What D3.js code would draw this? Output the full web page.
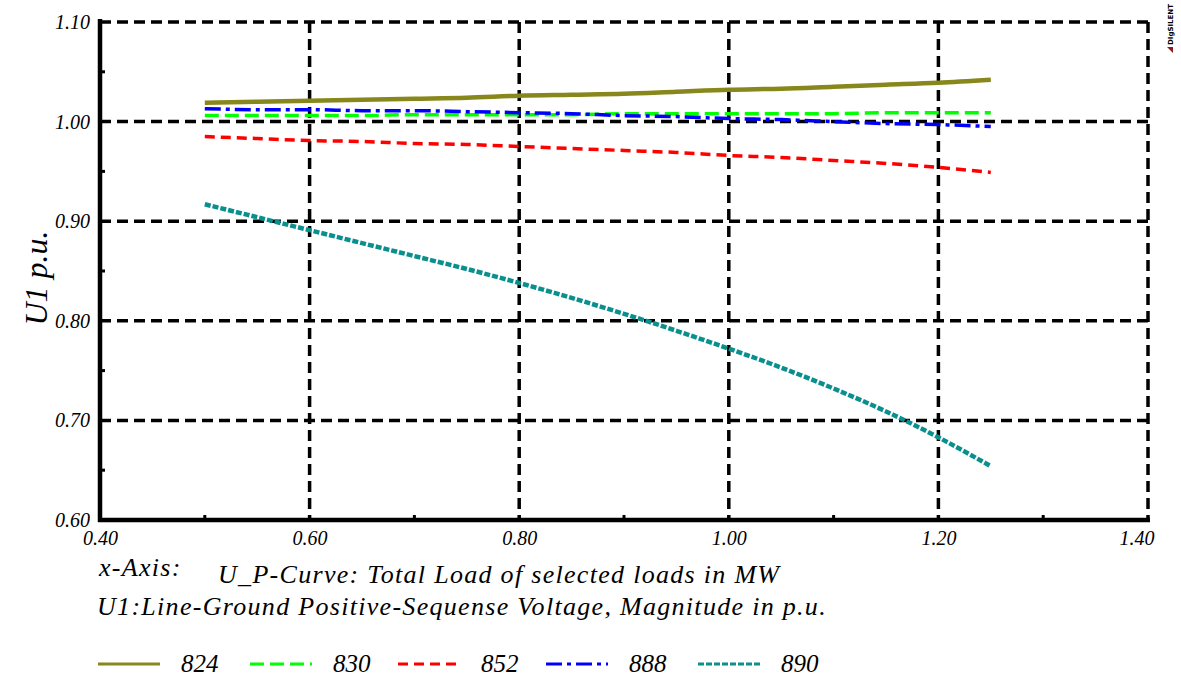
<!DOCTYPE html>
<html>
<head>
<meta charset="utf-8">
<script src="https://cdn.jsdelivr.net/npm/d3@7"></script>
<style>
  html, body { margin: 0; padding: 0; background: #ffffff; }
  svg { display: block; }
  svg text { font-family: "Times New Roman", "Liberation Serif", Times, "DejaVu Serif", serif !important; font-style: italic; fill: #000; }
  svg text.logo { font-family: "DejaVu Sans", sans-serif !important; font-style: normal; font-weight: bold; }
  svg text.note { font-size: 26px; letter-spacing: 1.3px; }
</style>
</head>
<body>
<svg id="chart" width="1181" height="679"></svg>
<script>
// Total load of the selected loads (MW)
const loadMW = [0.50, 0.55, 0.60, 0.65, 0.70, 0.75, 0.80, 0.85, 0.90, 0.95, 1.00, 1.05, 1.10, 1.15, 1.20, 1.25];

// Positive-sequence voltage magnitude (p.u.) per bus
const bus824 = [1.019, 1.020, 1.021, 1.022, 1.023, 1.024, 1.026, 1.027, 1.028, 1.030, 1.032, 1.033, 1.035, 1.037, 1.039, 1.042];
const bus830 = [1.006, 1.006, 1.006, 1.006, 1.007, 1.007, 1.007, 1.007, 1.008, 1.008, 1.008, 1.008, 1.008, 1.009, 1.009, 1.009];
const bus852 = [0.985, 0.983, 0.981, 0.980, 0.978, 0.977, 0.975, 0.973, 0.971, 0.969, 0.966, 0.964, 0.961, 0.958, 0.954, 0.949];
const bus888 = [1.013, 1.012, 1.012, 1.011, 1.011, 1.010, 1.009, 1.008, 1.006, 1.005, 1.003, 1.002, 1.000, 0.998, 0.997, 0.995];
const bus890 = [0.917, 0.904, 0.891, 0.878, 0.865, 0.852, 0.838, 0.823, 0.807, 0.790, 0.772, 0.753, 0.732, 0.709, 0.683, 0.654];

const seriesNames = ["824", "830", "852", "888", "890"];
const seriesValues = [bus824, bus830, bus852, bus888, bus890];

const xTicks = [0.40, 0.60, 0.80, 1.00, 1.20, 1.40];
const yTicks = [0.60, 0.70, 0.80, 0.90, 1.00, 1.10];

const xAxisText = "x-Axis:";
const xAxisCurve = "U_P-Curve: Total Load of selected loads in MW";
const yVarText = "U1:Line-Ground Positive-Sequense Voltage, Magnitude in p.u.";
const yTitle = "U1 p.u.";

// Line styles per bus
const styles = {
  "824": { color: "#87871c", width: 4.5, dash: null },
  "830": { color: "#00ff00", width: 3.5, dash: "14,6" },
  "852": { color: "#ff0000", width: 3.5, dash: "10,6" },
  "888": { color: "#0000ff", width: 3.5, dash: "16,5,4,5" },
  "890": { color: "#0a8f8f", width: 4.5, dash: "6,2" }
};

const svg = d3.select("#chart");
const plotL = 100, plotR = 1148, plotT = 22, plotB = 520;

const x = d3.scaleLinear().domain([0.4, 1.4]).range([plotL, plotR]);
const y = d3.scaleLinear().domain([0.6, 1.1]).range([plotB, plotT]);

// Dashed grid (also forms the top and right frame)
const grid = svg.append("g");
grid.selectAll("line.v").data(xTicks.slice(1)).join("line")
  .attr("x1", d => x(d)).attr("x2", d => x(d))
  .attr("y1", plotT).attr("y2", plotB)
  .attr("stroke", "#000").attr("stroke-width", 3.5).attr("stroke-dasharray", "11,6");
grid.selectAll("line.h").data(yTicks.slice(1)).join("line")
  .attr("x1", plotL).attr("x2", plotR)
  .attr("y1", d => y(d)).attr("y2", d => y(d))
  .attr("stroke", "#000").attr("stroke-width", 3.5).attr("stroke-dasharray", "11,6");

// Solid left and bottom axes with tick labels
const yAxis = d3.axisLeft(y).tickValues(yTicks).tickFormat(d3.format(".2f")).tickSize(0).tickPadding(10);
const xAxis = d3.axisBottom(x).tickValues(xTicks).tickFormat(d3.format(".2f")).tickSize(0).tickPadding(11);

const gy = svg.append("g").attr("transform", `translate(${plotL},0)`).call(yAxis);
gy.select(".domain").remove();
gy.attr("font-family", null).attr("font-size", null);
gy.selectAll("text").style("font-size", "20px");

const gx = svg.append("g").attr("transform", `translate(0,${plotB})`).call(xAxis);
gx.select(".domain").remove();
gx.attr("font-family", null).attr("font-size", null);
gx.selectAll("text").style("font-size", "20px");
// the last label sits inside the frame's right edge
gx.selectAll(".tick text").filter(d => d === 1.40).attr("text-anchor", "end").attr("dx", 6);

svg.append("line").attr("x1", plotL).attr("x2", plotL).attr("y1", plotT - 3).attr("y2", plotB + 2)
  .attr("stroke", "#000").attr("stroke-width", 4.5);
svg.append("line").attr("x1", plotL - 2).attr("x2", plotR + 2).attr("y1", plotB).attr("y2", plotB)
  .attr("stroke", "#000").attr("stroke-width", 4.5);

// Minor ticks halfway between major ticks
const yMinor = d3.range(0.65, 1.1, 0.1);
svg.selectAll("line.ym").data(yMinor).join("line")
  .attr("x1", plotL).attr("x2", plotL + 5)
  .attr("y1", d => y(d)).attr("y2", d => y(d))
  .attr("stroke", "#000").attr("stroke-width", 3);
const xMinor = d3.range(0.5, 1.4, 0.2);
svg.selectAll("line.xm").data(xMinor).join("line")
  .attr("x1", d => x(d)).attr("x2", d => x(d))
  .attr("y1", plotB).attr("y2", plotB - 5)
  .attr("stroke", "#000").attr("stroke-width", 3);

// Voltage curves
const line = d3.line().x(d => x(d[0])).y(d => y(d[1])).curve(d3.curveMonotoneX);
seriesNames.forEach((name, i) => {
  const st = styles[name];
  const pts = loadMW.map((l, j) => [l, seriesValues[i][j]]);
  svg.append("path").datum(pts)
    .attr("d", line)
    .attr("fill", "none")
    .attr("stroke", st.color)
    .attr("stroke-width", st.width)
    .attr("stroke-dasharray", st.dash);
});

// Axis descriptions
svg.append("text").attr("class", "note").attr("x", 99).attr("y", 576).text(xAxisText);
svg.append("text").attr("class", "note").attr("x", 218).attr("y", 583).text(xAxisCurve);
svg.append("text").attr("class", "note").attr("x", 97).attr("y", 615).text(yVarText);

// Y title
svg.append("text")
  .attr("transform", "translate(47,278) rotate(-90)")
  .attr("text-anchor", "middle")
  .style("font-size", "32px")
  .text(yTitle);

// Legend
const legendX = [98, 250, 398, 546, 698];
const lg = svg.append("g");
seriesNames.forEach((name, i) => {
  const st = styles[name];
  lg.append("line")
    .attr("x1", legendX[i]).attr("x2", legendX[i] + 62)
    .attr("y1", 664).attr("y2", 664)
    .attr("stroke", st.color)
    .attr("stroke-width", 3)
    .attr("stroke-dasharray", st.dash);
  lg.append("text")
    .attr("x", legendX[i] + 83).attr("y", 672)
    .style("font-size", "25px")
    .text(name);
});

// Vendor mark, top right
const logo = svg.append("g").attr("transform", "translate(1173,53) rotate(-90)");
logo.append("path").attr("d", "M0,0 L6,0 L6,-6 Z").attr("fill", "#8b1a1a");
logo.append("text").attr("class", "logo").attr("x", 8).attr("y", 0)
  .style("font-size", "7px").text("DIgSILENT");
</script>
</body>
</html>
